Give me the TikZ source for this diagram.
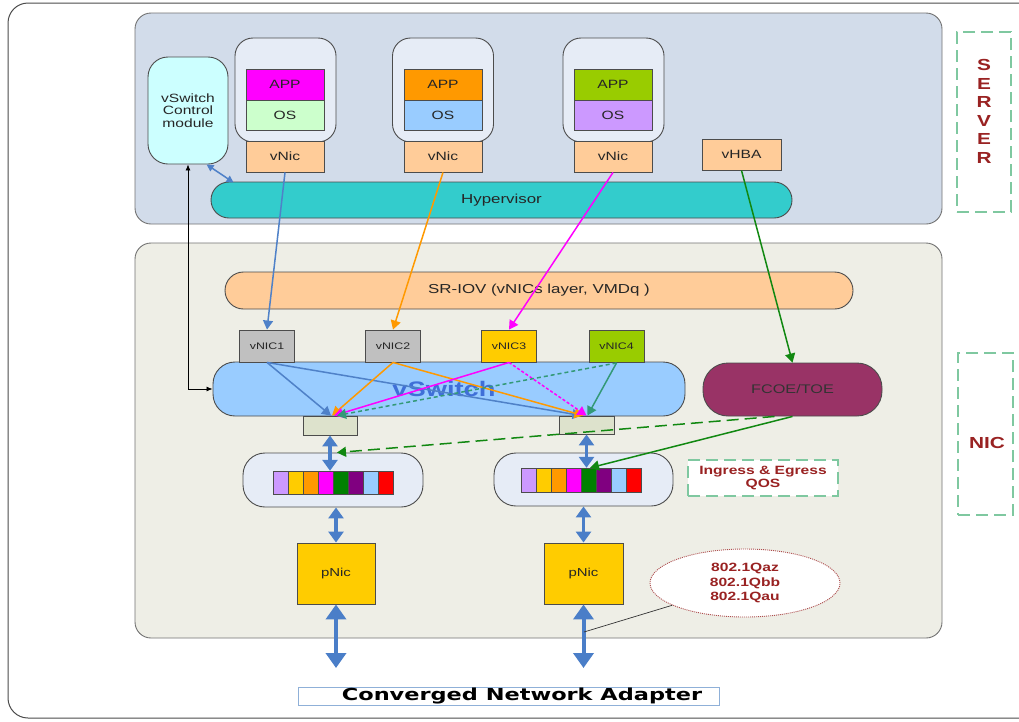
\documentclass[tikz,border=0pt]{standalone}
\usepackage{fontspec}
\setmainfont{Liberation Sans}[FakeStretch=1.3]
\newfontfamily\heavy{DejaVu Sans}[FakeStretch=1.36]
\usetikzlibrary{arrows.meta,shapes.geometric,calc}
\definecolor{srvfill}{HTML}{D2DCEA}
\definecolor{nicfill}{HTML}{EEEEE6}
\definecolor{vmfill}{HTML}{E6ECF6}
\definecolor{ctrlfill}{HTML}{CCFFFF}
\definecolor{peach}{HTML}{FFCC99}
\definecolor{hypfill}{HTML}{33CCCC}
\definecolor{appA}{HTML}{FF00FF}
\definecolor{osA}{HTML}{CCFFCC}
\definecolor{appB}{HTML}{FF9900}
\definecolor{osB}{HTML}{99CCFF}
\definecolor{appC}{HTML}{99CC00}
\definecolor{osC}{HTML}{CC99FF}
\definecolor{grayfill}{HTML}{C0C0C0}
\definecolor{yelfill}{HTML}{FFCC00}
\definecolor{vswfill}{HTML}{99CCFF}
\definecolor{vswtext}{HTML}{3F6FD8}
\definecolor{portfill}{HTML}{DDE2CC}
\definecolor{fcoefill}{HTML}{993366}
\definecolor{darkred}{HTML}{992222}
\definecolor{dashgreen}{HTML}{7FC8A0}
\definecolor{cblue}{HTML}{4F81C8}
\definecolor{corange}{HTML}{FF9900}
\definecolor{cmag}{HTML}{FF00FF}
\definecolor{cgreen}{HTML}{118811}
\definecolor{cseagreen}{HTML}{339977}
\definecolor{bigblue}{HTML}{4A7EC8}
\definecolor{titlebox}{HTML}{8FB0D8}
\definecolor{qlav}{HTML}{CC99FF}
\definecolor{qyel}{HTML}{FFCC00}
\definecolor{qora}{HTML}{FF9900}
\definecolor{qmag}{HTML}{FF00FF}
\definecolor{qgrn}{HTML}{008000}
\definecolor{qpur}{HTML}{800080}
\definecolor{qsky}{HTML}{99CCFF}
\definecolor{qred}{HTML}{FF0000}
\tikzset{
  bx/.style={draw=black!70,line width=0.9pt,inner sep=0pt,text=black!85,
    font=\fontsize{12}{14}\selectfont},
  thinarr/.style={line width=1.5pt,-{Triangle[length=9pt,width=10pt]}},
  bigarr/.style={line width=3.5pt,color=bigblue,
    {Triangle[length=11pt,width=15pt]}-{Triangle[length=11pt,width=15pt]}},
  hugearr/.style={line width=4pt,color=bigblue,
    {Triangle[length=15pt,width=20pt]}-{Triangle[length=15pt,width=20pt]}},
  redlbl/.style={text=darkred,font=\fontsize{16}{18.6}\selectfont\bfseries,align=center},
  dashbox/.style={draw=dashgreen,line width=1.3pt,dash pattern=on 12pt off 6pt,inner sep=0pt},
  qbar/.style={draw=black!70,line width=0.6pt}
}
\begin{document}
\begin{tikzpicture}[x=1pt,y=-1pt]
\useasboundingbox (0,0) rectangle (1019,721);
\fill[white] (0,0) rectangle (1019,721);
% outer frame
\draw[black!70,line width=1pt,rounded corners=20] (8,3) rectangle (1060,718);

% server area
\node[bx,fill=srvfill,rounded corners=16,minimum width=807,minimum height=211,draw=black!55] (server) at (538.5,118.5) {};
% nic area
\node[bx,fill=nicfill,rounded corners=16,minimum width=807,minimum height=395,draw=black!55] (nic) at (538.5,440.5) {};

% side labels
\node[dashbox,minimum width=54,minimum height=180] (srvbox) at (984,122) {};
\node[redlbl] (srvtxt) at (984,111.5) {S\\E\\R\\V\\E\\R};
\node[dashbox,minimum width=55,minimum height=162] (nicbox) at (985.5,434) {};
\node[redlbl] (nictxt) at (987,443) {NIC};

% control module
\node[bx,fill=ctrlfill,rounded corners=20,minimum width=80,minimum height=107,align=center,
  font=\fontsize{12}{12.5}\selectfont] (ctrl) at (188,110.5) {vSwitch\\Control\\module};

% VMs
\node[bx,fill=vmfill,rounded corners=18,minimum width=101,minimum height=104] (vmA) at (285.5,90) {};
\node[bx,fill=vmfill,rounded corners=18,minimum width=101,minimum height=104] (vmB) at (443,90) {};
\node[bx,fill=vmfill,rounded corners=18,minimum width=101,minimum height=104] (vmC) at (613.5,90) {};
\node[bx,fill=appA,minimum width=78,minimum height=31] (appA) at (285,84.5) {APP};
\node[bx,fill=osA,minimum width=78,minimum height=30] (osA) at (285,115) {OS};
\node[bx,fill=peach,minimum width=78,minimum height=31] (vnicA) at (285,156.5) {vNic};
\node[bx,fill=appB,minimum width=78,minimum height=31] (appB) at (443,84.5) {APP};
\node[bx,fill=osB,minimum width=78,minimum height=30] (osB) at (443,115) {OS};
\node[bx,fill=peach,minimum width=78,minimum height=31] (vnicB) at (443,156.5) {vNic};
\node[bx,fill=appC,minimum width=78,minimum height=31] (appC) at (613,84.5) {APP};
\node[bx,fill=osC,minimum width=78,minimum height=30] (osC) at (613,115) {OS};
\node[bx,fill=peach,minimum width=78,minimum height=31] (vnicC) at (613,156.5) {vNic};
\node[bx,fill=peach,minimum width=79,minimum height=31] (vhba) at (741.5,154.5) {vHBA};

% hypervisor
\node[bx,fill=hypfill,rounded corners=18,minimum width=581,minimum height=36,
  font=\fontsize{13}{15}\selectfont] (hyp) at (501.5,200) {Hypervisor};

% SR-IOV
\node[bx,fill=peach,rounded corners=18.5,minimum width=628,minimum height=37,
  font=\fontsize{13}{15}\selectfont] (sriov) at (539,290.5) {SR-IOV (vNICs layer, VMDq )};

% vSwitch
\node[bx,fill=vswfill,rounded corners=22,minimum width=472,minimum height=54,
  text=vswtext,font=\fontsize{21}{24}\selectfont\bfseries] (vsw) at (449,389) {vSwitch\hspace*{10pt}};

% vNICs
\node[bx,fill=grayfill,minimum width=55,minimum height=32,font=\fontsize{9.5}{11}\selectfont] (nA) at (267,346) {vNIC1};
\node[bx,fill=grayfill,minimum width=55,minimum height=32,font=\fontsize{9.5}{11}\selectfont] (nB) at (393,346) {vNIC2};
\node[bx,fill=yelfill,minimum width=55,minimum height=32,font=\fontsize{9.5}{11}\selectfont] (nC) at (509,346) {vNIC3};
\node[bx,fill=appC,minimum width=55,minimum height=32,font=\fontsize{9.5}{11}\selectfont] (nD) at (616.5,346.5) {vNIC4};

% ports
\node[bx,fill=portfill,minimum width=54,minimum height=19] (portL) at (330,425.5) {};
\node[bx,fill=portfill,minimum width=55,minimum height=18] (portR) at (586.5,425) {};

% FCOE
\node[bx,fill=fcoefill,rounded corners=25,minimum width=179,minimum height=53,
  text=black!80,font=\fontsize{12.5}{14}\selectfont] (fcoe) at (792.5,389.5) {FCOE/TOE};

% queues
\node[bx,fill=vmfill,rounded corners=22,minimum width=180,minimum height=54] (queueL) at (333,480) {};
\node[bx,fill=vmfill,rounded corners=22,minimum width=179,minimum height=53] (queueR) at (583.5,479.5) {};
\node[inner sep=0,minimum width=120,minimum height=23] (barsL) at (333,482.5) {};
\node[inner sep=0,minimum width=120,minimum height=24] (barsR) at (581,480) {};
\foreach \c [count=\i from 0] in {qlav,qyel,qora,qmag,qgrn,qpur,qsky,qred}{
  \draw[qbar,fill=\c] ($(barsL.north west)+(15*\i,0)$) rectangle ++(15,23);
  \draw[qbar,fill=\c] ($(barsR.north west)+(15*\i,0)$) rectangle ++(15,24);
}

% QOS
\node[dashbox,fill=white,minimum width=150,minimum height=36,align=center,text=darkred,
  font=\fontsize{12}{13}\selectfont\bfseries] (qos) at (763,478) {Ingress \& Egress\\QOS};

% pNics
\node[bx,fill=yelfill,minimum width=78,minimum height=61,font=\fontsize{11.5}{13}\selectfont] (pnicL) at (336,573.5) {pNic};
\node[bx,fill=yelfill,minimum width=79,minimum height=61,font=\fontsize{11.5}{13}\selectfont] (pnicR) at (583.5,573.5) {pNic};

% standards ellipse
\node[ellipse,draw=darkred!80,dash pattern=on 1pt off 1pt,line width=0.9pt,fill=white,minimum width=190,minimum height=68,
  inner sep=0,align=center,text=darkred,font=\fontsize{12}{14.5}\selectfont\bfseries] (ell) at (745,583)
  {802.1Qaz\\802.1Qbb\\802.1Qau};

% title
\node[draw=titlebox,line width=1pt,fill=white,minimum width=421,minimum height=18,inner sep=0,
  font=\heavy\fontsize{16.5}{18}\selectfont\bfseries] (title) at (508.5,696) {\hspace*{27pt}Converged Network Adapter};

% coordinates for free ends
\coordinate (outL) at (336,668);
\coordinate (outR) at (583.5,668);
\coordinate (tail) at (584,632);

% control connections
\draw[black,line width=0.8pt,{Latex[length=6pt,width=5pt]}-{Latex[length=6pt,width=5pt]}] (ctrl.south) |- (vsw.west);
\draw[cblue,line width=1.5pt,{Triangle[length=7pt,width=7pt]}-{Triangle[length=7pt,width=7pt]}] (ctrl.-71) -- ($(hyp.north west)+(23,1)$);

% vNic to vNIC
\draw[thinarr,cblue] (vnicA.south) -- (nA.north);
\draw[thinarr,corange] (vnicB.south) -- (nB.north);
\draw[thinarr,cmag] (vnicC.south) -- (nC.north);
\draw[thinarr,cgreen] (vhba.south) -- (fcoe.north);

% inside vSwitch
\draw[thinarr,cblue] (nA.south) -- ([xshift=1pt]portL.north);
\draw[thinarr,cblue] (nA.south) -- ([xshift=-5pt]portR.north);
\draw[thinarr,corange] (nB.south) -- ([xshift=2pt]portL.north);
\draw[thinarr,corange] (nB.south) -- ([xshift=-3pt]portR.north);
\draw[thinarr,cmag] (nC.south) -- ([xshift=4pt]portL.north);
\draw[thinarr,cmag,dash pattern=on 3pt off 2pt] (nC.south) -- ([xshift=0pt]portR.north);
\draw[thinarr,cseagreen,dash pattern=on 4pt off 3pt] (nD.south) -- ([xshift=7pt]portL.north);
\draw[thinarr,cseagreen] (nD.south) -- ([xshift=1pt]portR.north);

% FCOE to queues
\draw[thinarr,cgreen,dash pattern=on 12pt off 6pt] ($(fcoe.south)+(-18,0)$) -- ([xshift=4pt]queueL.north);
\draw[thinarr,cgreen] (fcoe.south) -- ([xshift=9pt]barsR.north);

% big blue arrows
\draw[bigarr] (portL.south) -- (portL.south |- barsL.north);
\draw[bigarr] (portR.south) -- (portR.south |- barsR.north);
\draw[bigarr] (pnicL.north |- queueL.south) -- (pnicL.north);
\draw[bigarr] (pnicR.north |- queueR.south) -- (pnicR.north);
\draw[hugearr] (pnicL.south) -- (outL);
\draw[hugearr] (pnicR.south) -- (outR);

% ellipse leader
\draw[black!80,line width=0.7pt] (ell.197) -- (tail);
\end{tikzpicture}
\end{document}
